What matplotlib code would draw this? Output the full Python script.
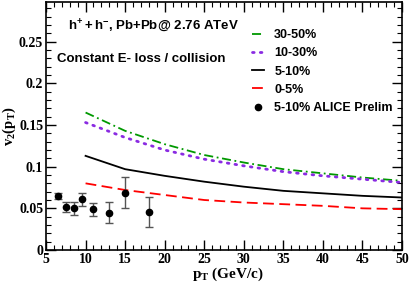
import numpy as np
import matplotlib
matplotlib.use("Agg")
import matplotlib.pyplot as plt
from matplotlib.ticker import MultipleLocator

plt.rcParams['font.family'] = ['Liberation Serif', 'DejaVu Serif']
plt.rcParams['font.weight'] = 'bold'
plt.rcParams['axes.labelweight'] = 'bold'
plt.rcParams['mathtext.fontset'] = 'custom'
plt.rcParams['mathtext.rm'] = 'Liberation Serif:bold'
plt.rcParams['mathtext.it'] = 'Liberation Serif:bold'
plt.rcParams['mathtext.bf'] = 'Liberation Serif:bold'
plt.rcParams['mathtext.sf'] = 'Liberation Sans:bold'

# ---- model curves ----
pt_model = [10, 15, 20, 25, 30, 35, 40, 45, 50]
v2_30_50 = [0.165, 0.143, 0.127, 0.114, 0.105, 0.097, 0.092, 0.087, 0.083]
v2_10_30 = [0.153, 0.135, 0.120, 0.109, 0.101, 0.094, 0.089, 0.085, 0.081]
v2_5_10 = [0.113, 0.097, 0.089, 0.082, 0.076, 0.071, 0.068, 0.065, 0.063]
v2_0_5 = [0.080, 0.072, 0.066, 0.060, 0.057, 0.055, 0.053, 0.050, 0.049]

# ---- ALICE preliminary 5-10% ----
pt_data = [6.5, 7.5, 8.5, 9.5, 11, 13, 15, 18]
v2_data = [0.065, 0.052, 0.050, 0.061, 0.049, 0.045, 0.069, 0.046]
v2_err = [0.004, 0.006, 0.008, 0.008, 0.008, 0.013, 0.019, 0.018]

fig = plt.figure(figsize=(4.09, 2.83), dpi=100)
ax = fig.add_axes([0.1125, 0.1166, 0.8705, 0.8774])

ax.plot(pt_model, v2_30_50, color="#009900", lw=1.3, ls=(0, (5, 2, 1, 2)), label="30-50%")
ax.plot(pt_model, v2_10_30, color="#8a2be2", lw=2.0, ls=(0, (0.6, 2.2)), dash_capstyle="round", label="10-30%")
ax.plot(pt_model, v2_5_10, color="black", lw=1.3, label="5-10%")
ax.plot(pt_model, v2_0_5, color="red", lw=1.3, ls=(0, (6, 3)), label="0-5%")
ax.errorbar(pt_data, v2_data, yerr=v2_err, fmt="o", color="black", ms=4.5,
            ecolor="#555555", elinewidth=1.0, capsize=3, capthick=1.0)
ax.plot([], [], "o", color="black", ms=4.5, label="5-10% ALICE Prelim")

ax.set_xlim(5, 50)
ax.set_ylim(0, 0.298)
ax.xaxis.set_major_locator(MultipleLocator(5))
ax.xaxis.set_minor_locator(MultipleLocator(1))
ax.set_yticks([0, 0.05, 0.1, 0.15, 0.2, 0.25])
ax.set_yticklabels(["0", "0.05", "0.1", "0.15", "0.2", "0.25"])
ax.yaxis.set_minor_locator(MultipleLocator(0.01))
ax.tick_params(which="both", direction="in", top=True, right=True, labelsize=10)
ax.tick_params(which="major", length=7, width=1)
ax.tick_params(which="minor", length=3.5, width=0.8)
ax.tick_params(axis="x", pad=2)
ax.tick_params(axis="y", pad=2)
for s in ax.spines.values():
    s.set_linewidth(1.2)

ax.set_ylabel(r"$\mathrm{v_2(p_T)}$", fontsize=10.5)
ax.yaxis.set_label_coords(-0.08, 0.5)
ax.set_xlabel(r"$\mathrm{p_T}$ (GeV/c)", fontsize=11, fontweight="bold")
ax.xaxis.set_label_coords(0.51, -0.063)

ax.text(0.063, 0.905, r"$\mathsf{h^{+}+h^{-}}$, Pb+Pb@ 2.76 ATeV", transform=ax.transAxes,
        fontsize=9.5, fontfamily="Liberation Sans", fontweight="bold", va="center")
ax.text(0.031, 0.77, "Constant E- loss / collision", transform=ax.transAxes,
        fontsize=9.5, fontfamily="Liberation Sans", fontweight="bold", va="center")

ax.legend(loc="upper left", bbox_to_anchor=(0.56, 0.915), frameon=False,
          prop={"family": "Liberation Sans", "weight": "bold", "size": 9},
          handlelength=1.0, handletextpad=0.8, labelspacing=0.5, borderpad=0)

fig.savefig("out.png", dpi=100)
